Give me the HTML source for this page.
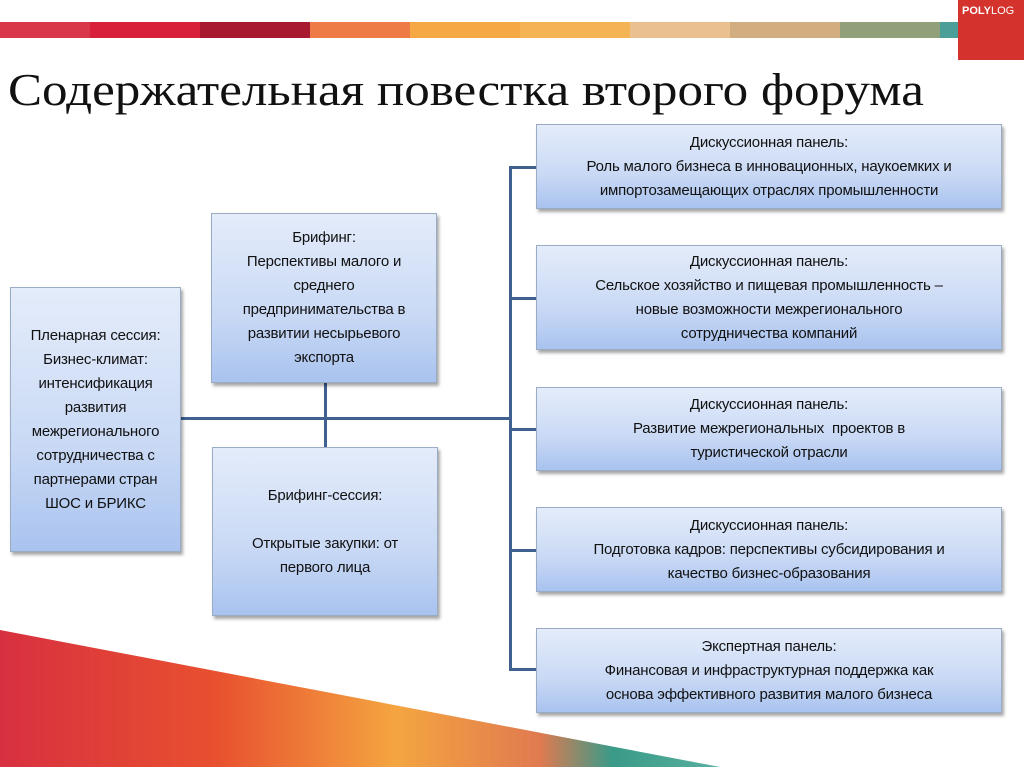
<!DOCTYPE html>
<html><head><meta charset="utf-8"><style>
body{margin:0;width:1024px;height:767px;position:relative;overflow:hidden;background:#fff;font-family:"Liberation Sans",sans-serif}
.b{position:absolute;box-sizing:border-box;border:1px solid #9aabc4;background:linear-gradient(#e4ecfa,#c9d9f5 60%,#a9c3ef);box-shadow:2px 3px 3px rgba(0,0,0,.35);display:flex;align-items:center;justify-content:center;text-align:center;font-size:15px;line-height:24px;color:#111;letter-spacing:-0.2px}
.l{position:absolute;background:#3f6190}
h1{position:absolute;left:8px;top:64px;margin:0;font-family:"Liberation Serif",serif;font-weight:normal;font-size:46px;line-height:52px;color:#111;white-space:nowrap;transform-origin:0 0;transform:scaleX(1.11)}
</style></head><body>
<svg width="1024" height="767" style="position:absolute;left:0;top:0">
<rect x="0" y="22" width="90" height="16" fill="#d9384a"/><rect x="90" y="22" width="110" height="16" fill="#d8203a"/>
<rect x="200" y="22" width="110" height="16" fill="#a81a30"/><rect x="310" y="22" width="100" height="16" fill="#ee7a45"/>
<rect x="410" y="22" width="110" height="16" fill="#f6a845"/><rect x="520" y="22" width="110" height="16" fill="#f4b455"/>
<rect x="630" y="22" width="100" height="16" fill="#ebc08f"/><rect x="730" y="22" width="110" height="16" fill="#d2ad80"/>
<rect x="840" y="22" width="100" height="16" fill="#8fa07a"/><rect x="940" y="22" width="18" height="16" fill="#4c9e98"/>
<rect x="958" y="0" width="66" height="60" fill="#d4322c"/>
<text x="962" y="14" fill="#fff" font-size="11" font-weight="bold" font-family="Liberation Sans">POLY<tspan font-weight="normal">LOG</tspan></text>
<defs><linearGradient id="g" x1="0" x2="1"><stop offset="0" stop-color="#d83040"/><stop offset=".3" stop-color="#e8502f"/><stop offset=".55" stop-color="#f4a540"/><stop offset=".75" stop-color="#e07a50"/><stop offset=".85" stop-color="#3a9a88"/><stop offset="1" stop-color="#58b0a0"/></linearGradient></defs>
<polygon points="0,630 720,767 0,767" fill="url(#g)"/>
</svg>
<h1>Содержательная повестка второго форума</h1>
<div class="l" style="left:181px;top:417px;width:330px;height:3px"></div>
<div class="l" style="left:324px;top:383px;width:3px;height:64px"></div>
<div class="l" style="left:509px;top:166px;width:3px;height:505px"></div>
<div class="l" style="left:509px;top:166px;width:28px;height:3px"></div>
<div class="l" style="left:509px;top:297px;width:28px;height:3px"></div>
<div class="l" style="left:509px;top:428px;width:28px;height:3px"></div>
<div class="l" style="left:509px;top:549px;width:28px;height:3px"></div>
<div class="l" style="left:509px;top:668px;width:28px;height:3px"></div>
<div class="b" style="left:10px;top:287px;width:171px;height:265px">Пленарная сессия:<br>Бизнес-климат:<br>интенсификация<br>развития<br>межрегионального<br>сотрудничества с<br>партнерами стран<br>ШОС и БРИКС</div>
<div class="b" style="left:211px;top:213px;width:226px;height:170px">Брифинг:<br>Перспективы малого и<br>среднего<br>предпринимательства в<br>развитии несырьевого<br>экспорта</div>
<div class="b" style="left:212px;top:447px;width:226px;height:169px">Брифинг-сессия:<br><br>Открытые закупки: от<br>первого лица</div>
<div class="b" style="left:536px;top:124px;width:466px;height:85px">Дискуссионная панель:<br>Роль малого бизнеса в инновационных, наукоемких и<br>импортозамещающих отраслях промышленности</div>
<div class="b" style="left:536px;top:245px;width:466px;height:105px">Дискуссионная панель:<br>Сельское хозяйство и пищевая промышленность –<br>новые возможности межрегионального<br>сотрудничества компаний</div>
<div class="b" style="left:536px;top:387px;width:466px;height:84px">Дискуссионная панель:<br>Развитие межрегиональных&nbsp; проектов в<br>туристической отрасли</div>
<div class="b" style="left:536px;top:507px;width:466px;height:85px">Дискуссионная панель:<br>Подготовка кадров: перспективы субсидирования и<br>качество бизнес-образования</div>
<div class="b" style="left:536px;top:628px;width:466px;height:85px">Экспертная панель:<br>Финансовая и инфраструктурная поддержка как<br>основа эффективного развития малого бизнеса</div>
</body></html>
